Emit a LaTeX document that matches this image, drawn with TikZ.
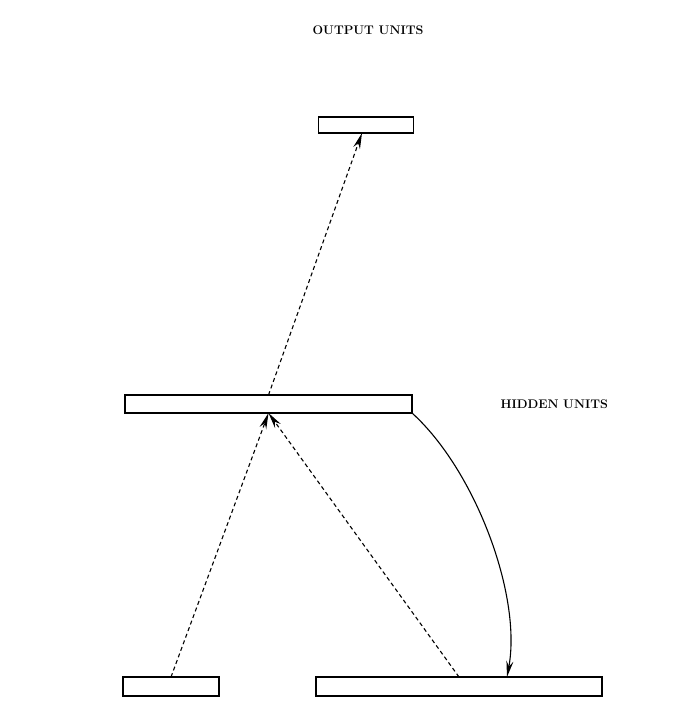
\documentclass[tikz,border=0pt]{standalone}
\usepackage{tikz}
\usetikzlibrary{arrows.meta}
\usetikzlibrary{positioning}

\begin{document}
\begin{tikzpicture}[x=1pt,y=-1pt,
    unitbox/.style={draw, line width=1.3pt, rectangle, inner sep=0pt, outer sep=0pt},
    feed/.style={line width=1.1pt, dash pattern=on 4pt off 3pt, -{Stealth[length=16pt,width=7pt]}},
    recur/.style={line width=1.1pt, -{Stealth[length=16pt,width=7pt]}},
    unitlabel/.style={font=\fontsize{12.5}{15}\selectfont\bfseries}]

    % Rahmen des Bildes
    \useasboundingbox (0,0) rectangle (680,714);

    % Beschriftungen
    \node[unitlabel] (outlabel) at (368,30) {OUTPUT UNITS};
    \node[unitlabel, anchor=west] (hidlabel) at (497,404) {HIDDEN UNITS};

    % Einheiten (Balken)
    \node[unitbox, minimum width=95pt, minimum height=16pt] (out) at (366,125) {};
    \node[unitbox, minimum width=287pt, minimum height=18pt] (hid) at (268.5,404) {};
    \node[unitbox, minimum width=96pt, minimum height=19pt] (inL) at (171,686.5) {};
    \node[unitbox, minimum width=286pt, minimum height=19pt] (inR) at (459,686.5) {};

    % Vorwaertsverbindungen (gestrichelt)
    \draw[feed] (inL.north) -- (hid.south);
    \draw[feed] (inR.north) -- (hid.south);
    \draw[feed] (hid.north) -- ([xshift=-4pt]out.south);

    % Rueckkopplung von den versteckten Einheiten
    \draw[recur] (hid.south east) .. controls +(63,57) and +(15,-82) .. ([xshift=48pt]inR.north);
\end{tikzpicture}
\end{document}
